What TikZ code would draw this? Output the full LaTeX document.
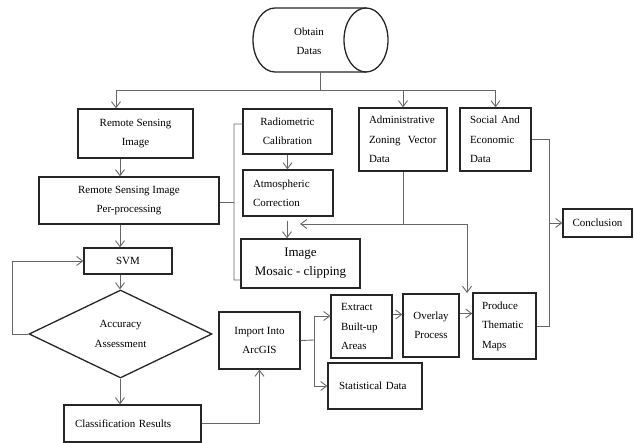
\documentclass[tikz,border=0pt]{standalone}
\usepackage{fontspec}
\setmainfont{Liberation Serif}
\usetikzlibrary{arrows.meta,shapes.geometric}
\begin{document}
\begin{tikzpicture}[x=1bp,y=-1bp,
  bx/.style={draw=black!85, line width=1.3bp, rectangle, inner ysep=0bp, font=\fontsize{11}{19.5}\selectfont},
  lbx/.style={bx, align=left},
  cbx/.style={bx, align=center, inner xsep=2bp},
  ln/.style={draw=black!60, line width=0.9bp},
  ar/.style={ln, -{Straight Barb[length=6bp,width=9bp]}},
  txt/.style={font=\fontsize{11}{19.5}\selectfont, align=center}
]
\useasboundingbox (0,0) rectangle (634,443);

% cylinder
\draw[draw=black!85, line width=1.3bp] (366,8) -- (275,8)
  arc[start angle=270, end angle=90, x radius=22, y radius=32] -- (366,72);
\draw[draw=black!85, line width=1.3bp] (366,40) ellipse [x radius=22, y radius=32];
\node[minimum width=135bp, minimum height=64bp, inner sep=0bp] (obtain) at (320.5,40) {};
\node[txt] (obtaintxt) at (309,41.5) {Obtain\\Datas};

% boxes
\node[cbx, minimum width=115bp, minimum height=49bp] (rsi) at (135.5,133.5) {Remote Sensing\\Image};
\node[cbx, minimum width=89bp, minimum height=45bp] (rad) at (287.5,131.5) {Radiometric\\Calibration};
\node[lbx, text width=68bp, inner xsep=10bp, minimum height=63bp] (adm) at (403,139.5) {Administrative\\Zoning\ \ Vector\\Data};
\node[lbx, text width=51bp, inner xsep=10bp, minimum height=63bp] (soc) at (495.5,139.5) {Social And\\Economic\\Data};
\node[cbx, minimum width=180bp, minimum height=47bp] (pre) at (129,200.5) {Remote Sensing Image\\Per-processing};
\node[lbx, text width=70bp, inner xsep=10bp, minimum height=46bp] (atm) at (288,193) {Atmospheric\\Correction};
\node[cbx, minimum width=119bp, minimum height=49bp, font=\fontsize{13}{19}\selectfont] (mos) at (300.5,263.5) {Image\\Mosaic - clipping};
\node[cbx, minimum width=69bp, minimum height=28bp] (con) at (597.5,223) {Conclusion};
\node[cbx, minimum width=88bp, minimum height=26bp] (svm) at (128,261) {SVM};
\node[diamond, draw=black!85, line width=1.3bp, aspect=2.08, inner sep=0bp, minimum width=183bp, minimum height=88bp, align=center, font=\fontsize{11}{19.5}\selectfont] (acc) at (120.5,334) {Accuracy\\Assessment};
\node[lbx, text width=115bp, inner xsep=11bp, minimum height=37bp] (cls) at (132.5,423.5) {Classification Results};
\node[cbx, minimum width=81bp, minimum height=57bp] (imp) at (259.5,340.5) {Import Into\\ArcGIS};
\node[lbx, text width=41bp, inner xsep=10bp, minimum height=63bp] (ext) at (361.5,326.5) {Extract\\Built-up\\Areas};
\node[cbx, minimum width=56bp, minimum height=63bp] (ovl) at (431,325.5) {Overlay\\Process};
\node[lbx, text width=45bp, inner xsep=9bp, minimum height=66bp] (pro) at (504.5,326) {Produce\\Thematic\\Maps};
\node[lbx, text width=72bp, inner xsep=11bp, minimum height=46bp] (sta) at (375,386) {Statistical Data};

% junction coordinates
\coordinate (j0) at (320.5,90);
\coordinate (jA) at (403,224);
\coordinate (jR) at (467,224);
\coordinate (jL) at (300,224);
\coordinate (jP) at (467,293);
\coordinate (br) at (234,202);
\coordinate (jC) at (549,223);
\coordinate (jI) at (314,340);

% top distribution
\draw[ln] (obtain.south) -- (j0);
\draw[ln] (j0) -- (j0 -| 116,0);
\draw[ln] (j0) -- (j0 -| soc.north);
\draw[ar] (j0 -| 116,0) -- (rsi.north -| 116,0);
\draw[ar] (j0 -| adm.north) -- (adm.north);
\draw[ar] (j0 -| soc.north) -- (soc.north);

% left column
\draw[ar] (rsi.south -| 120,0) -- (pre.north -| 120,0);
\draw[ar] (pre.south -| 120,0) -- (svm.north -| 120,0);
\draw[ar] (svm.south -| 120,0) -- (acc.north -| 120,0);
\draw[ar] (acc.south -| 120,0) -- (cls.north -| 120,0);
\draw[ar] (acc.west) -- ++(-16,0) |- (svm.west);
\draw[ar] (cls.east) -| (imp.south);

% preprocessing bracket
\draw[ln] (pre.east |- br) -- (br);
\draw[ln] ([yshift=7.5bp]rad.west) -- ([yshift=7.5bp]rad.west -| br) -- (br |- 0,280) -- ([yshift=-16.5bp]mos.west);
\draw[ar] (rad.south) -- (rad.south |- atm.north);
\draw[ar] ([yshift=-4bp]atm.south -| 287,0) -- (mos.north -| 287,0);

% administrative data
\draw[ln] (adm.south) -- (jA);
\draw[ar] (jR) -- (jL);
\draw[ar] (jR) -- (jP);

% ArcGIS branch
\draw[ln] (imp.east) -- (jI);
\draw[ar] (jI) |- ([yshift=10.5bp]ext.west);
\draw[ar] (jI) |- (sta.west);
\draw[ar] ([yshift=12bp]ext.east) -- ([yshift=12bp]ext.east -| ovl.west);
\draw[ar] ([yshift=12bp]ovl.east) -- ([yshift=12bp]ovl.east -| pro.west);

% conclusion
\draw[ln] (soc.east) -- (soc.east -| jC) -- (jC |- pro.east) -- (pro.east);
\draw[ar] (jC) -- (con.west);
\end{tikzpicture}
\end{document}
